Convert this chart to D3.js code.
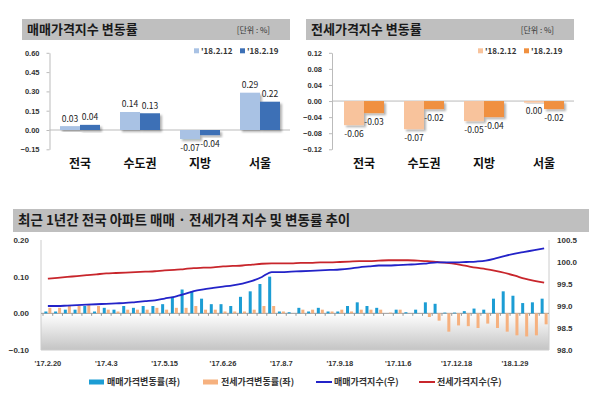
<!doctype html>
<html>
<head>
<meta charset="utf-8">
<script src="https://d3js.org/d3.v7.min.js"></script>
<style>
    body { margin: 0; background: #fff; }
    svg { display: block; font-family: "Noto Sans CJK KR", "Noto Sans", sans-serif; }
    .tick text { fill: #333; font-weight: bold; }
</style>
</head>
<body>
<svg width="600" height="414"></svg>
<script>
// ---- top charts ----
var regions = ["전국", "수도권", "지방", "서울"];
var topSeries = ["'18.2.12", "'18.2.19"];
var saleChg212 = [0.03, 0.14, -0.07, 0.29];
var saleChg219 = [0.04, 0.13, -0.04, 0.22];
var jeonseChg212 = [-0.06, -0.07, -0.05, -0.004];
var jeonseChg219 = [-0.03, -0.02, -0.04, -0.02];
var saleTicks = [-0.15, 0, 0.15, 0.30, 0.45, 0.60];
var jeonseTicks = [-0.12, -0.08, -0.04, 0, 0.04, 0.08, 0.12];

// ---- bottom chart (weekly) ----
var weeks = ["'17.2.20","'17.2.27","'17.3.6","'17.3.13","'17.3.20","'17.3.27","'17.4.3","'17.4.10","'17.4.17","'17.4.24",
    "'17.5.1","'17.5.8","'17.5.15","'17.5.22","'17.5.29","'17.6.5","'17.6.12","'17.6.19","'17.6.26","'17.7.3",
    "'17.7.10","'17.7.17","'17.7.24","'17.7.31","'17.8.7","'17.8.14","'17.8.21","'17.8.28","'17.9.4","'17.9.11",
    "'17.9.18","'17.9.25","'17.10.9","'17.10.16","'17.10.23","'17.10.30","'17.11.6","'17.11.13","'17.11.20","'17.11.27",
    "'17.12.4","'17.12.11","'17.12.18","'17.12.25","'18.1.1","'18.1.8","'18.1.15","'18.1.22","'18.1.29","'18.2.5",
    "'18.2.12","'18.2.19"];
var weekTicks = ["'17.2.20","'17.4.3","'17.5.15","'17.6.26","'17.8.7","'17.9.18","'17.11.6","'17.12.18","'18.1.29"];
var saleRate = [0.005, 0.005, 0.01, 0.01, 0.02, 0.005, 0.015, 0.01, 0.02, 0.015,
    0.02, 0.02, 0.025, 0.045, 0.065, 0.06, 0.04, 0.025, 0.025, 0.02,
    0.045, 0.06, 0.08, 0.10, 0.005, 0.003, 0.015, 0.005, 0.015, 0.005,
    0.005, 0.02, 0.03, 0.02, 0.015, 0.00, 0.01, 0.003, 0.01, 0.03,
    0.026, 0.002, 0.002, 0.006, 0.013, 0.01, 0.04, 0.06, 0.048, 0.028,
    0.03, 0.04];
var jeonseRate = [0.015, 0.015, 0.02, 0.02, 0.025, 0.02, 0.01, 0.005, 0.01, 0.01,
    0.01, 0.015, 0.01, 0.015, 0.015, 0.02, 0.01, 0.01, 0.005, 0.005,
    0.005, 0.01, 0.02, 0.02, 0.005, 0.00, 0.01, 0.01, 0.01, 0.005,
    0.01, 0.005, 0.01, 0.01, 0.01, 0.002, 0.01, 0.00, 0.00, -0.01,
    -0.02, -0.05, -0.033, -0.035, -0.04, -0.028, -0.04, -0.05, -0.06, -0.063,
    -0.06, -0.03];
var saleIndex = [99.00, 99.00, 99.01, 99.02, 99.03, 99.04, 99.05, 99.06, 99.07, 99.09,
    99.11, 99.13, 99.17, 99.21, 99.27, 99.34, 99.38, 99.41, 99.44, 99.47,
    99.51, 99.57, 99.66, 99.77, 99.77, 99.78, 99.79, 99.80, 99.81, 99.82,
    99.83, 99.85, 99.88, 99.90, 99.92, 99.92, 99.93, 99.94, 99.95, 99.97,
    99.99, 99.99, 99.99, 100.00, 100.01, 100.03, 100.08, 100.14, 100.19, 100.23,
    100.27, 100.31];
var jeonseIndex = [99.62, 99.64, 99.66, 99.68, 99.70, 99.72, 99.74, 99.75, 99.76, 99.77,
    99.78, 99.79, 99.81, 99.82, 99.84, 99.86, 99.87, 99.88, 99.90, 99.91,
    99.92, 99.94, 99.96, 99.97, 99.97, 99.97, 99.98, 99.98, 99.99, 99.99,
    100.00, 100.01, 100.02, 100.02, 100.03, 100.04, 100.04, 100.04, 100.03, 100.02,
    100.00, 99.98, 99.95, 99.91, 99.87, 99.84, 99.80, 99.75, 99.69, 99.62,
    99.57, 99.53];
var leftTicks = [-0.10, 0, 0.10, 0.20];
var rightTicks = [98.0, 98.5, 99.0, 99.5, 100.0, 100.5];
var bottomLegend = ["매매가격변동률(좌)", "전세가격변동률(좌)", "매매가격지수(우)", "전세가격지수(우)"];

var svg = d3.select("svg");

var defs = svg.append("defs");
defs.append("filter").attr("id", "shadow")
    .attr("x", "-20%").attr("y", "-20%").attr("width", "160%").attr("height", "160%")
    .append("feDropShadow")
    .attr("dx", 2).attr("dy", 2).attr("stdDeviation", 1)
    .attr("flood-color", "#000").attr("flood-opacity", 0.3);
var grad = defs.append("linearGradient").attr("id", "floor")
    .attr("x1", 0).attr("y1", 0).attr("x2", 0).attr("y2", 1);
grad.append("stop").attr("offset", "0%").attr("stop-color", "#ffffff");
grad.append("stop").attr("offset", "100%").attr("stop-color", "#c4c4c4");

function titleBar(x, y, w, h, label, unit, fontSize) {
    svg.append("rect").attr("x", x).attr("y", y).attr("width", w).attr("height", h)
        .attr("fill", "#bfbfbf");
    svg.append("text").attr("x", x + 5).attr("y", y + h / 2 + fontSize * 0.36)
        .attr("font-size", fontSize).attr("font-weight", "bold").attr("fill", "#1a1a1a")
        .text(label);
    if (unit) {
        svg.append("text").attr("x", x + w - 20).attr("y", y + h / 2 + 3)
            .attr("text-anchor", "end").attr("font-size", 8).attr("fill", "#333")
            .text(unit);
    }
}

function topChart(cfg) {
    titleBar(cfg.tx, 19, 268, 21, cfg.title, "[단위 : %]", 13);

    var x = d3.scaleBand().domain(regions).range(cfg.xr);
    var y = d3.scaleLinear().domain(cfg.yd).range([149.3, 52.8]);

    var ax = svg.append("g").attr("transform", "translate(" + cfg.ax + ",0)")
        .call(d3.axisLeft(y).tickValues(cfg.ticks).tickFormat(d3.format(".2f"))
            .tickSizeInner(3).tickSizeOuter(0).tickPadding(7));
    ax.selectAll("path, line").attr("stroke", "#bbb");
    ax.selectAll("text").attr("font-size", 7.5);

    svg.append("line").attr("x1", cfg.ax).attr("x2", cfg.xr[1])
        .attr("y1", y(0)).attr("y2", y(0)).attr("stroke", "#bbb");

    var series = [cfg.a, cfg.b];
    var g = svg.append("g");
    series.forEach(function(vals, k) {
        g.selectAll(".b" + k).data(vals).enter().append("rect")
            .attr("x", function(d, i) { return x(regions[i]) + (x.bandwidth() - 40) / 2 + k * 20; })
            .attr("y", function(d) { return y(Math.max(0, d)); })
            .attr("width", 20)
            .attr("height", function(d) { return Math.abs(y(d) - y(0)); })
            .attr("fill", cfg.colors[k])
            .attr("filter", "url(#shadow)");
        g.selectAll(".v" + k).data(vals).enter().append("text")
            .attr("x", function(d, i) { return x(regions[i]) + (x.bandwidth() - 40) / 2 + k * 20 + 10; })
            .attr("y", function(d) { return d > 0 ? y(d) - 4.5 : y(d) + 11.5; })
            .attr("text-anchor", "middle").attr("font-size", 8.5).attr("fill", "#222")
            .text(function(d) { return (Math.round(d * 100) / 100).toFixed(2); });
    });

    svg.selectAll(null).data(regions).enter().append("text")
        .attr("x", function(d) { return x(d) + x.bandwidth() / 2; })
        .attr("y", 167.5)
        .attr("text-anchor", "middle").attr("font-size", 12).attr("font-weight", "bold")
        .attr("fill", "#111")
        .text(function(d) { return d; });

    topSeries.forEach(function(s, k) {
        var lx = cfg.lx[k];
        svg.append("rect").attr("x", lx).attr("y", 48.3).attr("width", 5).attr("height", 5)
            .attr("fill", cfg.colors[k]);
        svg.append("text").attr("x", lx + 7).attr("y", 53.5)
            .attr("font-size", 8).attr("font-weight", "bold").attr("fill", "#333").text(s);
    });
}

topChart({
    title: "매매가격지수 변동률", tx: 22, ax: 49.5, xr: [50, 290],
    yd: [-0.15, 0.60], ticks: saleTicks, a: saleChg212, b: saleChg219,
    colors: ["#a9c2e4", "#3d70b6"], lx: [194, 240]
});
topChart({
    title: "전세가격지수 변동률", tx: 306, ax: 332, xr: [334, 574],
    yd: [-0.12, 0.12], ticks: jeonseTicks, a: jeonseChg212, b: jeonseChg219,
    colors: ["#f8c39c", "#f0903f"], lx: [478, 524]
});

// ---- bottom chart ----
titleBar(13, 209, 576, 23, "최근 1년간 전국 아파트 매매 · 전세가격 지수 및 변동률 추이", null, 13.5);

var plotTop = 240, plotBottom = 350, plotLeft = 41, plotRight = 549;
var x = d3.scaleBand().domain(weeks).range([43, 549]);
var yL = d3.scaleLinear().domain([-0.10, 0.20]).range([plotBottom, plotTop]);
var yR = d3.scaleLinear().domain([98.0, 100.5]).range([plotBottom, plotTop]);
var cx = function(w) { return x(w) + x.bandwidth() / 2; };

svg.append("rect").attr("x", plotLeft).attr("y", yL(0)).attr("width", plotRight - plotLeft)
    .attr("height", plotBottom - yL(0)).attr("fill", "url(#floor)");
svg.append("path")
    .attr("d", "M" + plotLeft + "," + plotTop + "V" + plotBottom + "H" + plotRight + "V" + plotTop)
    .attr("fill", "none").attr("stroke", "#ccc");

svg.append("line").attr("x1", plotLeft).attr("x2", plotRight).attr("y1", yL(0)).attr("y2", yL(0))
    .attr("stroke", "#999");
svg.selectAll(null).data(weeks).enter().append("line")
    .attr("x1", function(d) { return x(d); }).attr("x2", function(d) { return x(d); })
    .attr("y1", yL(0)).attr("y2", yL(0) + 2.5).attr("stroke", "#999");

var bars = svg.append("g");
bars.selectAll(".sr").data(saleRate).enter().append("rect")
    .attr("x", function(d, i) { return cx(weeks[i]) - 3.5; })
    .attr("y", function(d) { return yL(Math.max(0, d)); })
    .attr("width", 3)
    .attr("height", function(d) { return Math.abs(yL(d) - yL(0)); })
    .attr("fill", "#1c9dd4");
bars.selectAll(".jr").data(jeonseRate).enter().append("rect")
    .attr("x", function(d, i) { return cx(weeks[i]) + 0.5; })
    .attr("y", function(d) { return yL(Math.max(0, d)); })
    .attr("width", 3)
    .attr("height", function(d) { return Math.abs(yL(d) - yL(0)); })
    .attr("fill", "#f6b17f");

var line = d3.line()
    .x(function(d, i) { return cx(weeks[i]); })
    .y(function(d) { return yR(d); })
    .curve(d3.curveMonotoneX);
svg.append("path").datum(jeonseIndex).attr("d", line)
    .attr("fill", "none").attr("stroke", "#c8262c").attr("stroke-width", 1.8);
svg.append("path").datum(saleIndex).attr("d", line)
    .attr("fill", "none").attr("stroke", "#2323c8").attr("stroke-width", 1.8);

var la = svg.append("g").attr("transform", "translate(" + plotLeft + ",0)")
    .call(d3.axisLeft(yL).tickValues(leftTicks).tickFormat(d3.format(".2f"))
        .tickSize(0).tickPadding(12));
la.select(".domain").remove();
la.selectAll("text").attr("font-size", 8);

var ra = svg.append("g").attr("transform", "translate(" + plotRight + ",0)")
    .call(d3.axisRight(yR).tickValues(rightTicks).tickFormat(d3.format(".1f"))
        .tickSize(0).tickPadding(8));
ra.select(".domain").remove();
ra.selectAll("text").attr("font-size", 8);

var xa = svg.append("g").attr("transform", "translate(0,358)")
    .call(d3.axisBottom(x).tickValues(weekTicks).tickSize(0).tickPadding(3));
xa.select(".domain").remove();
xa.selectAll("text").attr("font-size", 7.5);

// legend
var legX = [89, 203, 316, 419];
var legColors = ["#1c9dd4", "#f6b17f", "#2323c8", "#c8262c"];
bottomLegend.forEach(function(s, k) {
    if (k < 2) {
        svg.append("rect").attr("x", legX[k]).attr("y", 379.5).attr("width", 15).attr("height", 5)
            .attr("fill", legColors[k]);
    } else {
        svg.append("line").attr("x1", legX[k]).attr("x2", legX[k] + 16)
            .attr("y1", 382).attr("y2", 382).attr("stroke", legColors[k]).attr("stroke-width", 2);
    }
    svg.append("text").attr("x", legX[k] + 18).attr("y", 385.2)
        .attr("font-size", 9).attr("font-weight", "bold").attr("fill", "#333").text(s);
});
</script>
</body>
</html>
